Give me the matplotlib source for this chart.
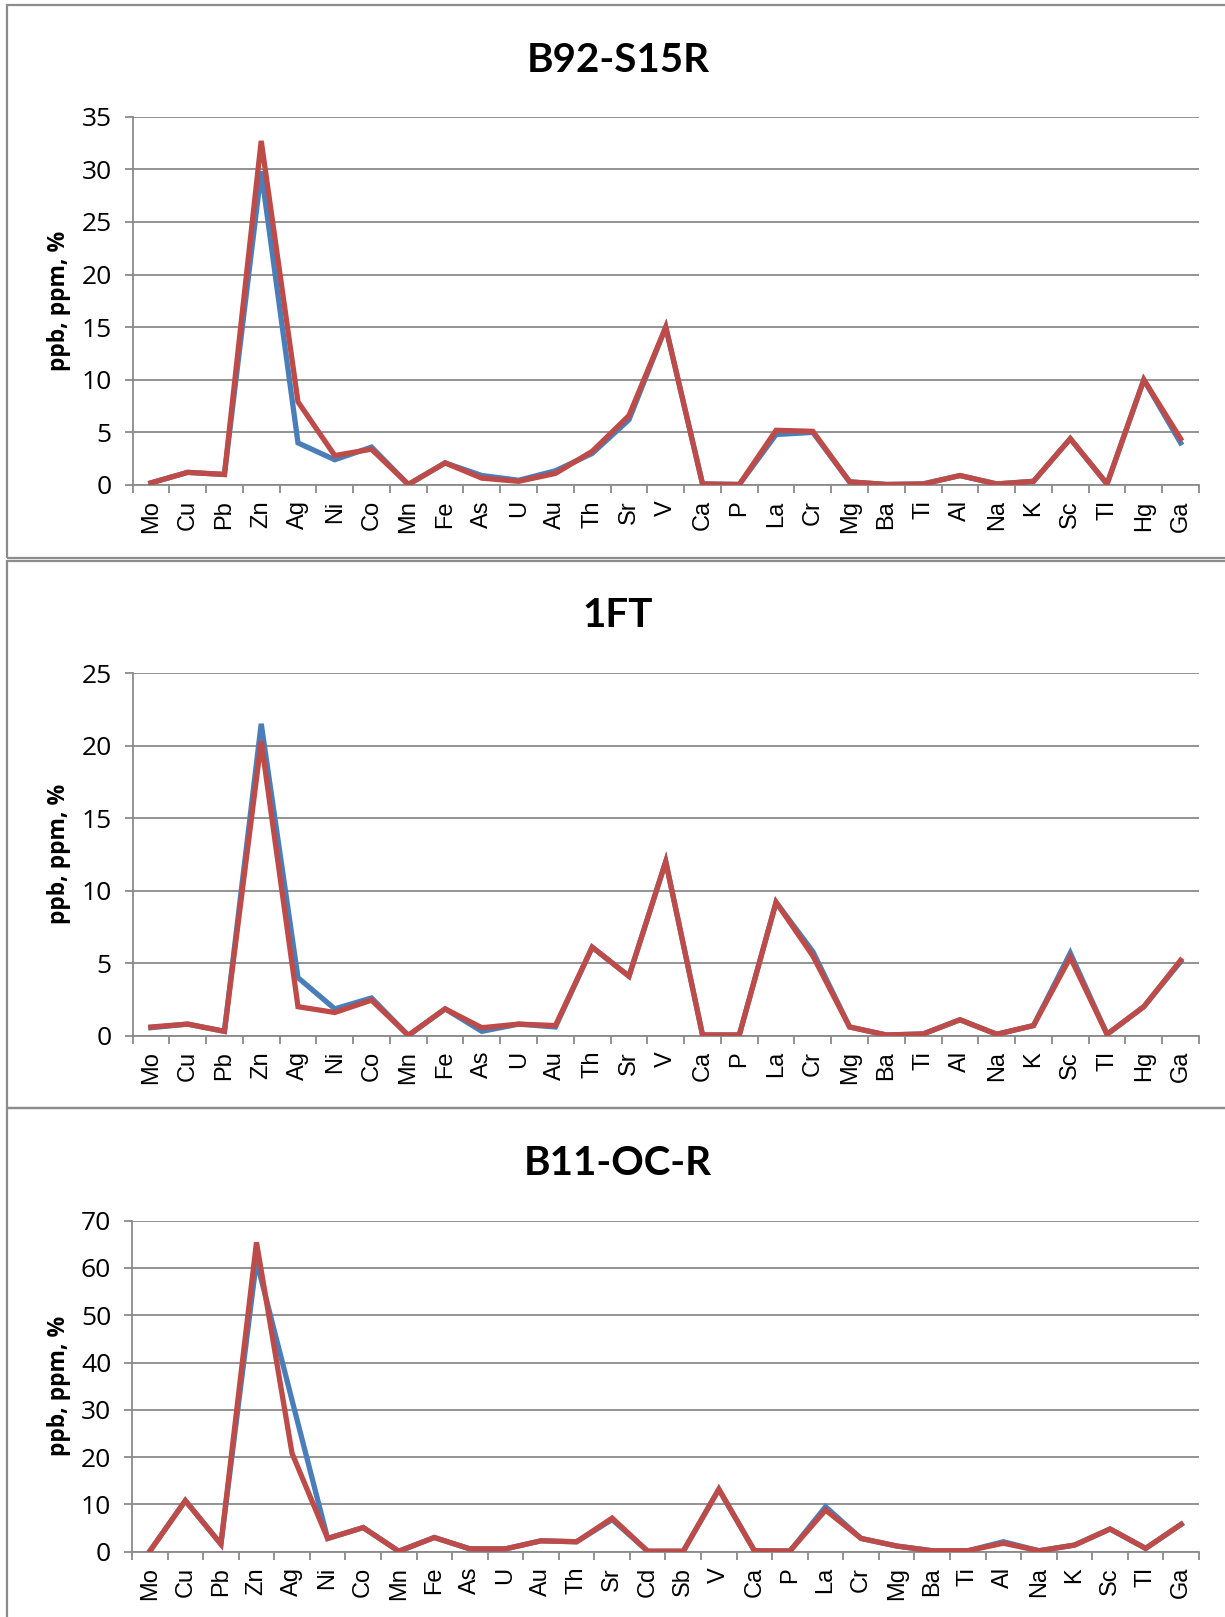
import numpy as np
from matplotlib import pyplot as plt
from matplotlib import rc
from matplotlib.patches import Rectangle
from matplotlib.ticker import FixedLocator, NullFormatter

rc('figure', dpi=100)
rc('axes', axisbelow=True)

W, H = 1225, 1617

elements_a = ['Mo', 'Cu', 'Pb', 'Zn', 'Ag', 'Ni', 'Co', 'Mn', 'Fe', 'As', 'U', 'Au', 'Th', 'Sr', 'V',
              'Ca', 'P', 'La', 'Cr', 'Mg', 'Ba', 'Ti', 'Al', 'Na', 'K', 'Sc', 'Tl', 'Hg', 'Ga']
elements_b = ['Mo', 'Cu', 'Pb', 'Zn', 'Ag', 'Ni', 'Co', 'Mn', 'Fe', 'As', 'U', 'Au', 'Th', 'Sr', 'Cd',
              'Sb', 'V', 'Ca', 'P', 'La', 'Cr', 'Mg', 'Ba', 'Ti', 'Al', 'Na', 'K', 'Sc', 'Tl', 'Ga']

b92_blue = [0.2, 1.2, 1.0, 29.8, 4.0, 2.4, 3.6, 0.05, 2.1, 0.9, 0.45, 1.35, 3.0, 6.2, 15.0,
            0.1, 0.05, 4.8, 5.0, 0.3, 0.05, 0.1, 0.9, 0.1, 0.35, 4.4, 0.1, 10.0, 4.0]
b92_red = [0.2, 1.2, 1.0, 32.7, 7.9, 2.8, 3.4, 0.05, 2.1, 0.65, 0.35, 1.1, 3.2, 6.6, 15.0,
           0.1, 0.05, 5.2, 5.1, 0.3, 0.05, 0.1, 0.9, 0.1, 0.35, 4.4, 0.1, 10.0, 4.4]

ft1_blue = [0.55, 0.8, 0.3, 21.5, 4.0, 1.85, 2.6, 0.02, 1.85, 0.3, 0.8, 0.6, 6.1, 4.1, 12.0,
            0.05, 0.05, 9.2, 5.8, 0.6, 0.05, 0.12, 1.1, 0.1, 0.7, 5.7, 0.1, 2.0, 5.1]
ft1_red = [0.6, 0.8, 0.3, 20.3, 2.0, 1.6, 2.45, 0.02, 1.85, 0.55, 0.8, 0.7, 6.1, 4.1, 12.0,
           0.05, 0.05, 9.2, 5.5, 0.6, 0.05, 0.12, 1.1, 0.1, 0.7, 5.4, 0.1, 2.0, 5.2]

b11_blue = [0.1, 10.8, 1.6, 61.5, 32.0, 2.8, 5.1, 0.1, 3.0, 0.6, 0.6, 2.3, 2.1, 6.8, 0.1,
            0.1, 13.2, 0.2, 0.15, 9.5, 2.8, 1.2, 0.2, 0.2, 2.1, 0.2, 1.4, 4.8, 0.7, 5.8]
b11_red = [0.1, 10.8, 1.6, 65.4, 20.8, 2.8, 5.1, 0.1, 3.0, 0.6, 0.6, 2.3, 2.1, 7.1, 0.1,
           0.1, 13.2, 0.2, 0.15, 8.8, 2.8, 1.2, 0.2, 0.2, 1.8, 0.2, 1.4, 4.8, 0.7, 5.8]

BLUE = '#4A7EBB'
RED = '#BE4B48'
GRID = '#8A8A8A'
FRAME = '#8C8C8C'

fig = plt.figure(figsize=(W / 100, H / 100))


def px_axes(left, top, right, bottom):
    return fig.add_axes([left / W, 1 - bottom / H, (right - left) / W, (bottom - top) / H])


def frame(x0, y0, x1, y1, lw=1.6):
    fig.add_artist(Rectangle((x0 / W, 1 - y1 / H), (x1 - x0) / W, (y1 - y0) / H,
                             transform=fig.transFigure, fill=False,
                             edgecolor=FRAME, linewidth=lw))


def panel(box, title, title_y, labels, blue, red, ymax, step):
    ax = px_axes(*box)
    x = np.arange(len(labels))
    ax.plot(x, blue, color=BLUE, lw=3.8, solid_joinstyle='miter', zorder=3)
    ax.plot(x, red, color=RED, lw=3.8, solid_joinstyle='miter', zorder=4)
    ax.set_xlim(-0.5, len(labels) - 0.5)
    ax.set_ylim(0, ymax)
    yt = np.arange(0, ymax + step / 2, step)
    ax.set_yticks(yt)
    ax.set_yticklabels([str(int(v)) for v in yt], fontsize=19, family='Open Sans')
    ax.yaxis.grid(True, color=GRID, lw=1.3)
    ax.set_xticks(x)
    ax.set_xticklabels(labels, rotation=90, fontsize=17, family='Liberation Sans')
    ax.xaxis.set_minor_locator(FixedLocator(np.arange(-0.5, len(labels), 1)))
    ax.xaxis.set_minor_formatter(NullFormatter())
    ax.tick_params(axis='x', which='major', length=0, pad=11)
    ax.tick_params(axis='x', which='minor', length=6, width=1.3, color=GRID)
    ax.tick_params(axis='y', length=6, width=1.3, color=GRID, pad=9)
    for s in ['top', 'right']:
        ax.spines[s].set_visible(False)
    for s in ['left', 'bottom']:
        ax.spines[s].set_color(GRID)
        ax.spines[s].set_linewidth(1.3)
    ymid = (box[1] + box[3]) / 2
    fig.text(59 / W, 1 - ymid / H, 'ppb, ppm, %', rotation=90, ha='center', va='center',
             fontsize=16.5, fontweight='bold', family='Open Sans')
    fig.text(618 / W, 1 - title_y / H, title, ha='center', va='center',
             fontsize=29, fontweight='bold', family='Lato')
    return ax


# panel frames (right edge and last bottom run off the picture)
frame(7, 5, W + 20, 558)
frame(7, 561, W + 20, 1108)
frame(7, 1108, W + 20, H + 20)

panel((132.5, 116.7, 1199, 485), 'B92-S15R', 60, elements_a, b92_blue, b92_red, 35, 5)
panel((132.5, 673, 1199, 1035.7), '1FT', 615, elements_a, ft1_blue, ft1_red, 25, 5)
panel((132, 1220.6, 1199, 1551.7), 'B11-OC-R', 1163, elements_b, b11_blue, b11_red, 70, 10)

plt.savefig('out.png', dpi=100)
